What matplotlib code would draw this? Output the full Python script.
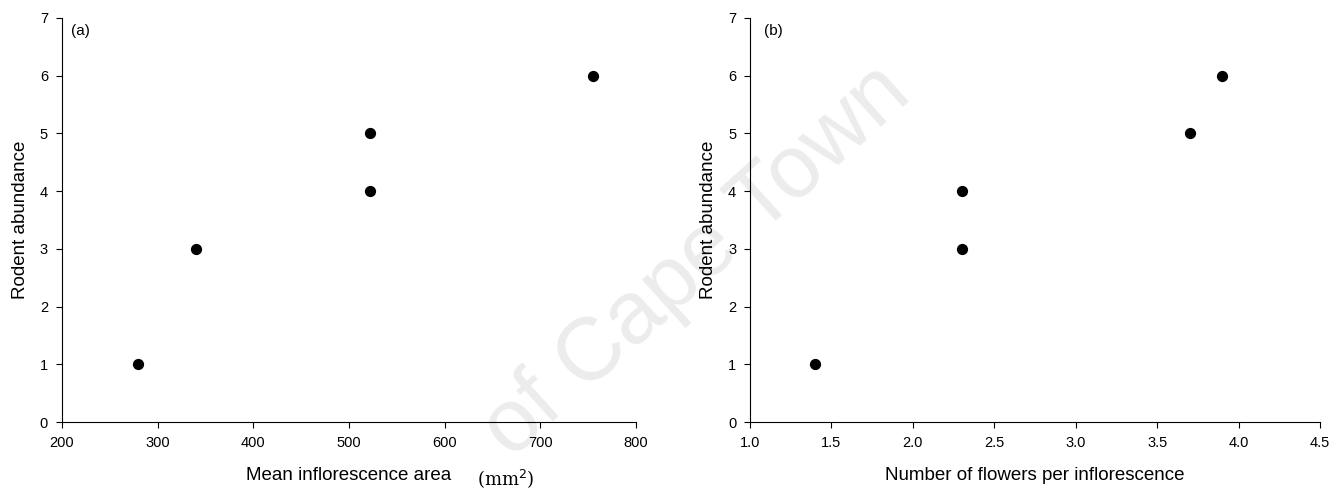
import matplotlib
matplotlib.use("Agg")
import matplotlib.pyplot as plt

area = [280, 340, 522, 522, 755]
abund_a = [1, 3, 4, 5, 6]
flowers = [1.4, 2.3, 2.3, 3.7, 3.9]
abund_b = [1, 3, 4, 5, 6]

plt.rcParams['font.family'] = ['Liberation Sans', 'DejaVu Sans']
fig = plt.figure(figsize=(13.41, 4.94), dpi=100)
fig.text(0.52, 0.47, 'of Cape Town', fontsize=64, color='#ececec', rotation=42,
         ha='center', va='center', zorder=-5)
ax1 = fig.add_axes([0.0462, 0.1457, 0.428, 0.818])
ax2 = fig.add_axes([0.5593, 0.1457, 0.425, 0.818])

for ax, x, y in [(ax1, area, abund_a), (ax2, flowers, abund_b)]:
    ax.set_facecolor('none')
    ax.scatter(x, y, s=50, color='black', zorder=3)
    ax.spines['top'].set_visible(False)
    ax.spines['right'].set_visible(False)
    ax.set_ylim(0, 7)
    ax.set_yticks(range(8))
    ax.tick_params(labelsize=10.5, direction='out', length=4, pad=6)
    ax.set_ylabel('Rodent abundance', fontsize=13.5, labelpad=8)

ax1.set_xlim(200, 800)
ax1.set_xticks(range(200, 801, 100))
ax1.set_xlabel('Mean inflorescence area', fontsize=13.5, labelpad=12)
fig.text(0.356, 0.032, r'(mm$^2$)', fontsize=13, family='serif', va='center')
ax2.set_xlim(1.0, 4.5)
ax2.set_xticks([1.0, 1.5, 2.0, 2.5, 3.0, 3.5, 4.0, 4.5])
ax2.set_xticklabels(['1.0', '1.5', '2.0', '2.5', '3.0', '3.5', '4.0', '4.5'])
ax2.set_xlabel('Number of flowers per inflorescence', fontsize=13.5, labelpad=12)

ax1.text(0.015, 0.985, '(a)', transform=ax1.transAxes, fontsize=11, va='top')
ax2.text(0.025, 0.985, '(b)', transform=ax2.transAxes, fontsize=11, va='top')

fig.savefig('out.png', dpi=100)
